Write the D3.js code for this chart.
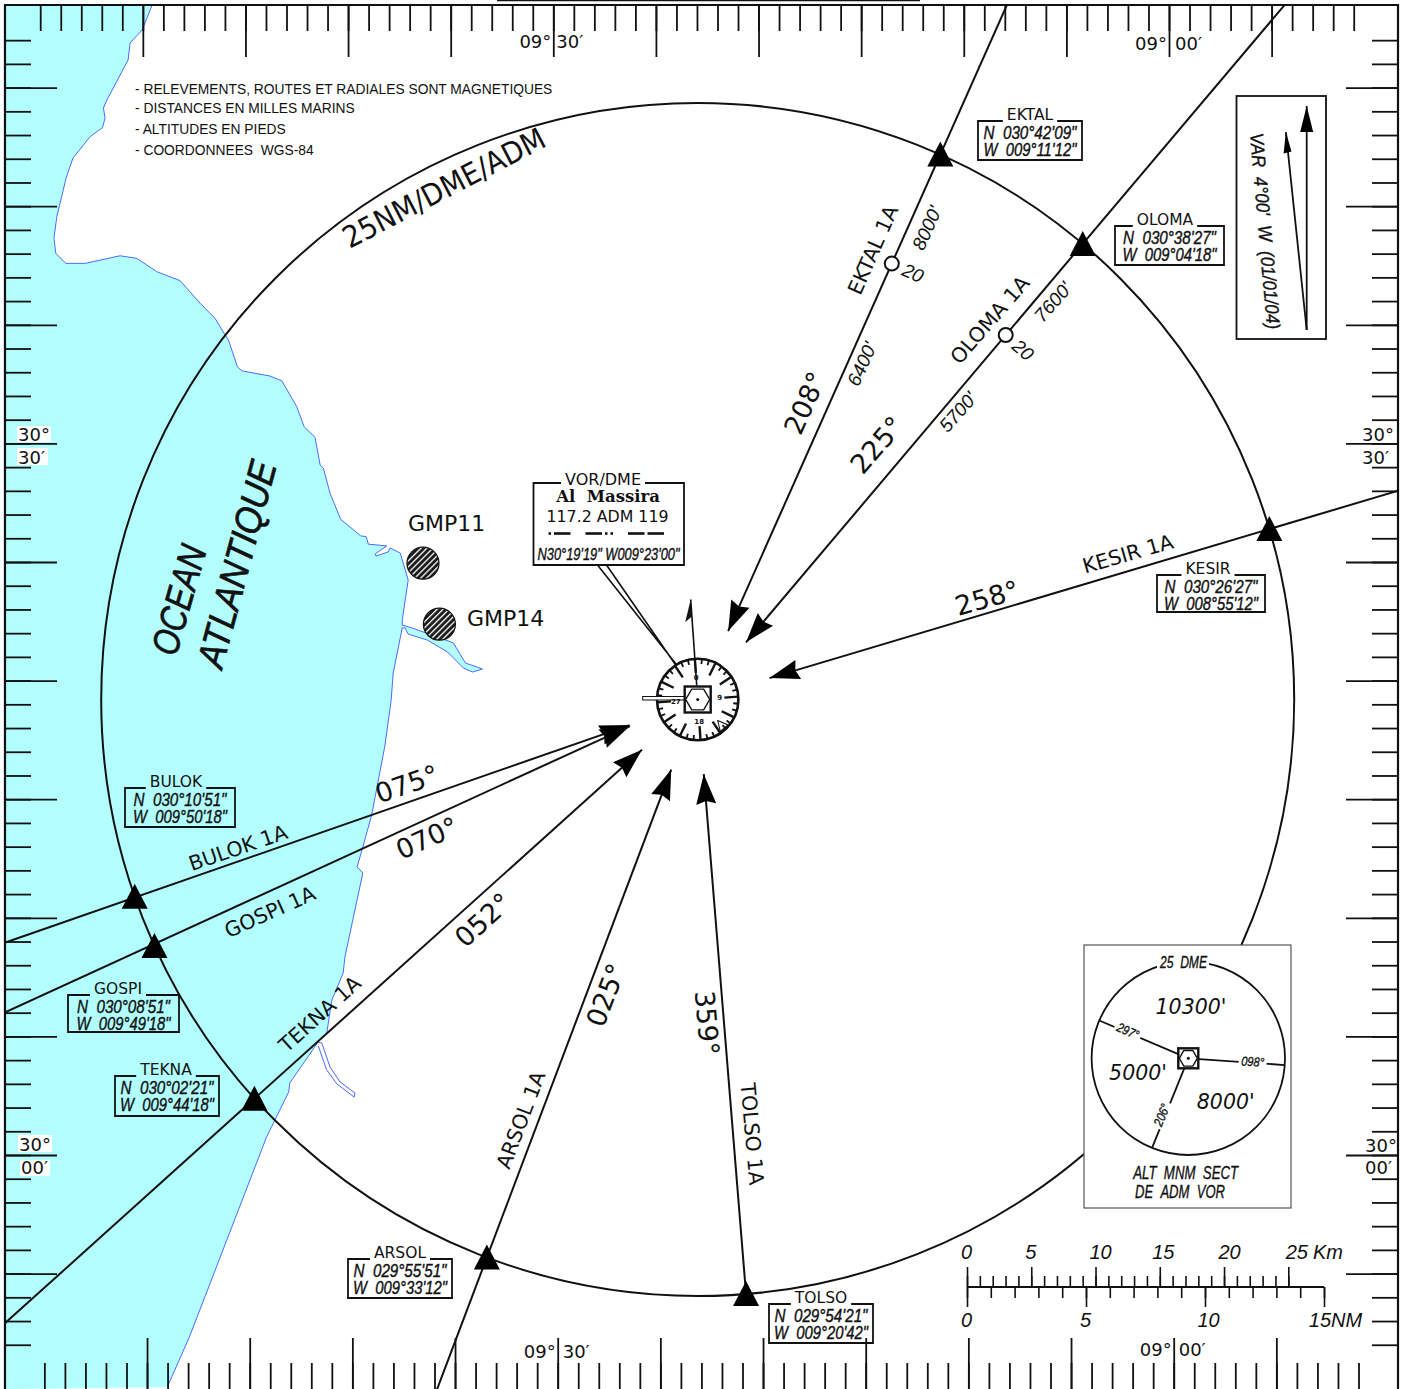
<!DOCTYPE html>
<html>
<head>
<meta charset="utf-8">
<script src="https://d3js.org/d3.v7.min.js"></script>
<style>
  html, body { margin: 0; padding: 0; background: #fff; }
  svg { display: block; }
  text { font-family: "DejaVu Sans", sans-serif; fill: #111; }
  .note { font-family: "Liberation Sans", sans-serif; font-size: 13.8px; }
  .grat { font-size: 18px; }
  .name { font-size: 15.5px; text-anchor: middle; }
  .coord { font-family: "Liberation Sans", sans-serif; font-style: italic; font-size: 19px; text-anchor: middle; stroke: #111; stroke-width: .4px; }
  .route { font-size: 20.5px; text-anchor: middle; dominant-baseline: central; }
  .track { font-size: 27px; text-anchor: middle; dominant-baseline: central; }
  .alt { font-family: "Liberation Sans", sans-serif; font-style: italic; font-size: 19px; text-anchor: middle; dominant-baseline: central; }
  .narrow { font-family: "Liberation Sans", sans-serif; font-style: italic; text-anchor: middle; stroke: #111; stroke-width: .35px; }
  .sector { font-style: italic; font-size: 20.5px; text-anchor: middle; dominant-baseline: central; }
  .domain { display: none; }
</style>
</head>
<body></body>
<script>
  var variation = 4;
  var dmeRing = 25;

  // routes
  var fixNames = ["EKTAL", "OLOMA", "KESIR", "BULOK", "GOSPI", "TEKNA", "ARSOL", "TOLSO"];
  var procNames = ["EKTAL 1A", "OLOMA 1A", "KESIR 1A", "BULOK 1A", "GOSPI 1A", "TEKNA 1A", "ARSOL 1A", "TOLSO 1A"];
  var inboundTracks = [208, 225, 258, 75, 70, 52, 25, 359];
  // from the VOR to each fix and to each arrow tip
  var fixRadials = [24, 40.2, 73.4, 250.7, 245.6, 228, 200.7, 175.35];
  var tipRadials = [24, 40.2, 73.4, 249.4, 248.6, 228, 200.7, 175.35];
  var tipRanges = [3.14, 3.14, 3.14, 3.05, 3.05, 3.14, 3.14, 3.14];
  var outerRanges = [45, 45, 45, 45, 45, 45, 45, 25];
  var fixLat = ["N\u00a0\u00a0030°42'09\"", "N\u00a0\u00a0030°38'27\"", "N\u00a0\u00a0030°26'27\"", "N\u00a0\u00a0030°10'51\"", "N\u00a0\u00a0030°08'51\"", "N\u00a0\u00a0030°02'21\"", "N\u00a0\u00a0029°55'51\"", "N\u00a0\u00a0029°54'21\""];
  var fixLon = ["W\u00a0\u00a0009°11'12\"", "W\u00a0\u00a0009°04'18\"", "W\u00a0\u00a0008°55'12\"", "W\u00a0\u00a0009°50'18\"", "W\u00a0\u00a0009°49'18\"", "W\u00a0\u00a0009°44'18\"", "W\u00a0\u00a0009°33'12\"", "W\u00a0\u00a0009°20'42\""];

  // 20 DME step downs
  var stepFix = ["EKTAL", "OLOMA"];
  var stepRange = [20, 20];

  // mn sector altitudes
  var sectorRadials = [297, 98, 206];
  var sectorLabels = ["297°", "098°", "206°"];

  // graticule, minutes east of 09°30'W and north of 30°00'N
  var lonMinor = d3.range(-25, 40);
  var lonMajor = d3.range(-20, 40, 5);
  var latMinor = d3.range(-8, 48);
  var latMajor = d3.range(-5, 50, 5);

  // scale bar
  var kmMinor = d3.range(0, 26);
  var kmMajor = [0, 5, 10, 15, 20, 25];
  var nmMinor = d3.range(0, 16);
  var nmMajor = [0, 5, 10, 15];

  var coast = [[-19.55, 48.48], [-20.03, 47.43], [-20.62, 46.88], [-20.72, 46.16], [-21.75, 44.48], [-21.92, 44.14], [-21.84, 43.71],
    [-21.97, 43.31], [-22.57, 42.93], [-23.41, 42.02], [-23.74, 41.18], [-24.19, 39.56], [-24.33, 38.65], [-24.24, 38.01],
    [-23.75, 37.59], [-22.81, 37.59], [-21.11, 37.91], [-20.29, 37.8], [-19.32, 37.24], [-18.18, 36.86], [-17.21, 35.91],
    [-16.48, 35.27], [-15.99, 34.57], [-15.83, 34.36], [-15.39, 33.23], [-15.18, 33.06], [-13.8, 32.84], [-13.23, 32.64],
    [-12.5, 31.55], [-12.14, 30.7], [-11.61, 30.26], [-11.36, 29.09], [-11.2, 28.95], [-10.88, 27.9], [-10.36, 26.8],
    [-9.38, 26.1], [-9.12, 26.07], [-9.01, 25.75], [-8.11, 25.68],
    [-8.68, 25.34], [-8.64, 25.25], [-8.05, 25.42], [-7.95, 25.59], [-7.46, 25.38], [-7.07, 24.24], [-7.36, 22.55],
    [-7.36, 22.34], [-6.88, 22.22], [-4.87, 21.59], [-4.28, 20.74], [-3.45, 20.49], [-3.94, 20.36], [-4.38, 20.53],
    [-5.16, 21.21], [-6.14, 21.71], [-7.07, 21.96], [-7.22, 22.22], [-7.36, 22.22], [-7.8, 20.32], [-7.9, 19.18],
    [-8.2, 17.28], [-8.85, 14.33], [-9.33, 12.83], [-9.56, 12.15], [-9.28, 11.89], [-10.15, 8.36], [-10.24, 7.67],
    [-10.79, 6.53], [-11.04, 5.14], [-11.47, 4.76], [-11.96, 4.13],
    [-12.84, 3.04], [-12.89, 2.66], [-13.97, 0.76], [-14.31, 0], [-17.73, -7.67], [-18.81, -9.78],
    [-26.78, -9.87], [-26.78, 48.48]];
  var creek = [[-11.47, 4.76], [-11.28, 4.72], [-10.88, 3.71], [-10.39, 3.08], [-9.66, 2.61], [-9.7, 2.44], [-10.55, 3.0], [-11.05, 3.6], [-11.45, 4.6]];

  var zones = ["GMP11", "GMP14"];
  var zoneLon = [-6.35, -5.55];
  var zoneLat = [24.95, 22.38];

  var notes = ["RELEVEMENTS, ROUTES ET RADIALES SONT MAGNETIQUES", "DISTANCES EN MILLES MARINS", "ALTITUDES EN PIEDS", "COORDONNEES\u00a0\u00a0WGS-84"];

  // ---- scales
  var width = 1407, height = 1389;
  var left = 5, right = 1398, topY = 5;
  var vorX = 697.7, vorY = 699.5;

  var xTop = d3.scaleLinear().domain([0, 30]).range([553.3, 1169]);
  var xBottom = d3.scaleLinear().domain([0, 30]).range([557.7, 1173.7]);
  var yLat = d3.scaleLinear().domain([0, 30]).range([1155, 443.4]);
  var rNm = d3.scaleLinear().domain([0, dmeRing]).range([0, 596.5]);
  var rInset = d3.scaleLinear().domain([0, dmeRing]).range([0, 96.7]);

  function polar(brg, r, cx, cy) {
    var a = brg * Math.PI / 180;
    return [(cx === undefined ? vorX : cx) + r * Math.sin(a), (cy === undefined ? vorY : cy) - r * Math.cos(a)];
  }

  // the chart lettering is condensed, none of the installed fonts is
  function squeeze(sel, k) {
    sel.each(function(){
      d3.select(this)
        .attr("textLength", this.getComputedTextLength() * k)
        .attr("lengthAdjust", "spacingAndGlyphs");
    });
    return sel;
  }

  var svg = d3.select("body")
    .append("svg")
    .attr("width", width)
    .attr("height", height);

  var defs = svg.append("defs");
  defs.append("clipPath").attr("id", "frame")
    .append("rect").attr("x", left).attr("y", topY).attr("width", right - left).attr("height", height - topY);
  var hatch = defs.append("pattern").attr("id", "hatch")
    .attr("patternUnits", "userSpaceOnUse").attr("width", 4.2).attr("height", 4.2)
    .attr("patternTransform", "rotate(-45)");
  hatch.append("rect").attr("width", 4.2).attr("height", 4.2).attr("fill", "#1a1a1a");
  hatch.append("rect").attr("width", 4.2).attr("height", 1.3).attr("fill", "#fff");

  // ---- ocean and coast
  var coastLine = d3.line()
    .x(function(d){ return xTop(d[0]); })
    .y(function(d){ return yLat(d[1]); });

  svg.append("path")
    .attr("d", coastLine(coast) + "Z")
    .attr("fill", "#b3ffff")
    .attr("stroke", "none");
  svg.append("path")
    .attr("d", coastLine(coast.slice(0, -2)))
    .attr("fill", "none")
    .attr("stroke", "#4a6cff")
    .attr("stroke-width", 1);
  svg.append("path")
    .attr("d", coastLine(creek))
    .attr("fill", "#fff")
    .attr("stroke", "#4a6cff")
    .attr("stroke-width", 1);

  // ---- graticule ticks
  function ticks(axis, values, size, translate) {
    svg.append("g")
      .attr("transform", translate)
      .call(axis.tickValues(values).tickSize(size).tickFormat(""))
      .selectAll("line")
      .attr("stroke", "#111")
      .attr("stroke-width", 1.8);
  }
  ticks(d3.axisBottom(xTop), lonMinor, 26, "translate(0," + topY + ")");
  ticks(d3.axisBottom(xTop), lonMajor, 52, "translate(0," + topY + ")");
  ticks(d3.axisTop(xBottom), lonMinor, 26, "translate(0," + height + ")");
  ticks(d3.axisTop(xBottom), lonMajor, 51, "translate(0," + height + ")");
  ticks(d3.axisRight(yLat), latMinor, 26, "translate(" + left + ",0)");
  ticks(d3.axisRight(yLat), latMajor, 52, "translate(" + left + ",0)");
  ticks(d3.axisLeft(yLat), latMinor, 26, "translate(" + right + ",0)");
  ticks(d3.axisLeft(yLat), latMajor, 52, "translate(" + right + ",0)");

  svg.append("path")
    .attr("d", "M" + left + "," + height + "V" + topY + "H" + right + "V" + height)
    .attr("fill", "none").attr("stroke", "#111").attr("stroke-width", 2.2);
  svg.append("line").attr("x1", 497).attr("x2", 920).attr("y1", 0.5).attr("y2", 0.5)
    .attr("stroke", "#111").attr("stroke-width", 1.6);

  // white patches behind the left hand labels
  [[17, 426, 34, 16], [17, 448, 31, 17], [18, 1135, 34, 17], [20, 1160, 30, 16]].forEach(function(b){
    svg.append("rect").attr("x", b[0]).attr("y", b[1]).attr("width", b[2]).attr("height", b[3]).attr("fill", "#fff");
  });

  function gratLabel(s, x, y, anchor) {
    svg.append("text").attr("class", "grat").attr("x", x).attr("y", y).attr("text-anchor", anchor || "start").text(s);
  }
  gratLabel("09°", xTop(0) - 2, 48, "end");
  gratLabel("30′", xTop(0) + 3, 48);
  gratLabel("09°", xTop(30) - 2, 50, "end");
  gratLabel("00′", xTop(30) + 6, 50);
  gratLabel("09°", xBottom(0) - 2, 1358, "end");
  gratLabel("30′", xBottom(0) + 5, 1358);
  gratLabel("09°", xBottom(30) - 2, 1356, "end");
  gratLabel("00′", xBottom(30) + 5, 1356);
  gratLabel("30°", 18, 440.5);
  gratLabel("30′", 18, 463.5);
  gratLabel("30°", 19, 1150.5);
  gratLabel("00′", 21, 1174);
  gratLabel("30°", 1362, 440.5);
  gratLabel("30′", 1362, 463.5);
  gratLabel("30°", 1365, 1151.5);
  gratLabel("00′", 1365, 1173.5);

  // ---- 25 NM ring
  svg.append("circle")
    .attr("cx", vorX).attr("cy", vorY).attr("r", rNm(dmeRing))
    .attr("fill", "none").attr("stroke", "#111").attr("stroke-width", 2);

  // ---- routes
  var routes = fixNames.map(function(n, i){
    return {
      fix: n,
      at: polar(fixRadials[i], rNm(dmeRing)),
      tip: polar(tipRadials[i], rNm(tipRanges[i])),
      end: polar(fixRadials[i], rNm(outerRanges[i]))
    };
  });

  svg.append("g").attr("clip-path", "url(#frame)")
    .selectAll("line")
    .data(routes)
    .enter()
    .append("line")
    .attr("x1", function(d){ return d.tip[0]; })
    .attr("y1", function(d){ return d.tip[1]; })
    .attr("x2", function(d){ return d.end[0]; })
    .attr("y2", function(d){ return d.end[1]; })
    .attr("stroke", "#111")
    .attr("stroke-width", 2);

  // inbound arrow heads
  svg.selectAll("path.head")
    .data(routes)
    .enter()
    .append("path")
    .attr("class", "head")
    .attr("d", "M0,0L-10,30L0,27L10,30Z")
    .attr("fill", "#000")
    .attr("transform", function(d){
      var a = Math.atan2(d.tip[0] - d.end[0], d.end[1] - d.tip[1]) * 180 / Math.PI;
      return "translate(" + d.tip + ") rotate(" + a + ")";
    });

  // fix triangles
  svg.selectAll("path.fix")
    .data(routes)
    .enter()
    .append("path")
    .attr("class", "fix")
    .attr("d", "M0,-13L13,12L-13,12Z")
    .attr("fill", "#000")
    .attr("transform", function(d){ return "translate(" + d.at + ")"; });

  // step down circles
  svg.selectAll("circle.step")
    .data(stepFix)
    .enter()
    .append("circle")
    .attr("class", "step")
    .attr("r", 7)
    .attr("cx", function(d, i){ return polar(fixRadials[fixNames.indexOf(d)], rNm(stepRange[i]))[0]; })
    .attr("cy", function(d, i){ return polar(fixRadials[fixNames.indexOf(d)], rNm(stepRange[i]))[1]; })
    .attr("fill", "#fff")
    .attr("stroke", "#111")
    .attr("stroke-width", 2);

  function rotText(s, cls, x, y, rot, size) {
    var t = svg.append("text").attr("class", cls)
      .attr("transform", "translate(" + x + "," + y + ") rotate(" + rot + ")")
      .text(s);
    if (size) t.style("font-size", size + "px");
    return t;
  }

  // route text, [x, y, rotation]
  var procAt = [[873, 250, -66], [990, 320, -49], [1128, 554, -16], [238, 848, -19], [270, 912, -24], [320, 1014, -42], [521, 1120, -69], [752, 1134, 85]];
  var trackAt = [[805, 403, -66], [877, 445, -49], [987, 598, -16], [407, 784, -19], [427, 838, -24], [483, 920, -42], [606, 995, -69], [707, 1023, 85]];
  procNames.forEach(function(n, i){
    rotText(n, "route", procAt[i][0], procAt[i][1], procAt[i][2]);
    rotText(d3.format("03d")(inboundTracks[i]) + "°", "track", trackAt[i][0], trackAt[i][1], trackAt[i][2]);
  });
  rotText("8000'", "alt", 927, 228, -66);
  rotText("6400'", "alt", 862, 364, -66);
  rotText("7600'", "alt", 1053, 302, -49);
  rotText("5700'", "alt", 958, 412, -49);
  rotText("20", "alt", 913, 273, 24);
  rotText("20", "alt", 1023, 350, 41);

  // fix boxes, [x0, y0, x1, y1] and the centre of each name
  var fixBox = [[978, 121, 1082, 160], [1115, 226, 1224, 265], [1157, 575, 1265, 612], [125, 788, 235, 827],
    [68, 995, 179, 1032], [115, 1076, 219, 1116], [348, 1259, 452, 1298], [769, 1304, 873, 1343]];
  var nameAt = [1030, 1165, 1208, 176, 118, 166, 400, 821];
  fixNames.forEach(function(n, i){
    var b = fixBox[i], cx = (b[0] + b[2]) / 2;
    var t = svg.append("text").attr("class", "name").attr("x", nameAt[i]).attr("y", b[1] - 1).text(n);
    var w = t.node().getComputedTextLength() / 2 + 4;
    svg.append("path")
      .attr("d", "M" + (nameAt[i] - w) + "," + b[1] + "H" + b[0] + "V" + b[3] + "H" + b[2] + "V" + b[1] + "H" + (nameAt[i] + w))
      .attr("fill", "none").attr("stroke", "#111").attr("stroke-width", 1.8);
    squeeze(svg.append("text").attr("class", "coord").attr("x", cx).attr("y", b[1] + 17.5).text(fixLat[i]), 0.8);
    squeeze(svg.append("text").attr("class", "coord").attr("x", cx).attr("y", b[1] + 35).text(fixLon[i]), 0.78);
  });

  // ---- notes and titles
  svg.selectAll("text.note")
    .data(notes)
    .enter()
    .append("text")
    .attr("class", "note")
    .attr("x", 135)
    .attr("y", function(d, i){ return [94, 113, 134, 155][i]; })
    .text(function(d){ return "- " + d; });

  rotText("25NM/DME/ADM", "route", 444, 188, -27.5, 30)
    .attr("textLength", 224).attr("lengthAdjust", "spacingAndGlyphs");

  rotText("OCEAN", "narrow", 179, 600, -74, 38).style("stroke-width", ".7px").style("dominant-baseline", "central")
    .attr("textLength", 112).attr("lengthAdjust", "spacingAndGlyphs");
  rotText("ATLANTIQUE", "narrow", 237, 564, -75, 38).style("stroke-width", ".7px").style("dominant-baseline", "central")
    .attr("textLength", 212).attr("lengthAdjust", "spacingAndGlyphs");

  // ---- restricted zones
  svg.selectAll("circle.zone")
    .data(zones)
    .enter()
    .append("circle")
    .attr("class", "zone")
    .attr("cx", function(d, i){ return xTop(zoneLon[i]); })
    .attr("cy", function(d, i){ return yLat(zoneLat[i]); })
    .attr("r", 16)
    .attr("fill", "url(#hatch)")
    .attr("stroke", "#111")
    .attr("stroke-width", 1.2);
  svg.append("text").attr("x", 408).attr("y", 531).style("font-size", "22px").text("GMP11");
  svg.append("text").attr("x", 467).attr("y", 626).style("font-size", "22px").text("GMP14");

  // ---- VOR box
  svg.append("path")
    .attr("d", "M561,483H533.5V565H684V483H645")
    .attr("fill", "#fff").attr("stroke", "#111").attr("stroke-width", 1.8);
  svg.append("text").attr("class", "name").attr("x", 603).attr("y", 484.5).style("font-size", "16px").text("VOR/DME");
  svg.append("text").attr("x", 608).attr("y", 502).attr("text-anchor", "middle")
    .style("font-family", "'DejaVu Serif', serif").style("font-weight", "bold").style("font-size", "16.5px").text("Al\u00a0\u00a0Massira");
  svg.append("text").attr("x", 607.5).attr("y", 521.5).attr("text-anchor", "middle").style("font-size", "15.8px").text("117.2 ADM 119");
  svg.append("text").attr("class", "coord").attr("x", 608.5).attr("y", 560).style("font-size", "16.5px")
    .attr("textLength", 142).attr("lengthAdjust", "spacingAndGlyphs").text("N30°19'19\" W009°23'00\"");

  // morse for ADM
  var morse = ".- -.. --";
  var mx = 548.5;
  morse.split("").forEach(function(c){
    if (c === " ") { mx += 12; return; }
    var len = c === "." ? 2.5 : 16.5;
    svg.append("line").attr("x1", mx).attr("x2", mx + len).attr("y1", 533.5).attr("y2", 533.5)
      .attr("stroke", "#111").attr("stroke-width", 2.6);
    mx += len + 3;
  });

  svg.append("path").attr("d", "M597.5,565L676,664M606.5,565L684,677")
    .attr("fill", "none").attr("stroke", "#111").attr("stroke-width", 1.6);

  // ---- compass rose on the VOR
  var rose = svg.append("g");
  var roseR = 40.7;
  rose.append("circle").attr("cx", vorX).attr("cy", vorY).attr("r", roseR)
    .attr("fill", "#fff").attr("stroke", "#111").attr("stroke-width", 2.6);
  rose.selectAll("line.tick")
    .data(d3.range(0, 360, 10))
    .enter()
    .append("line")
    .attr("class", "tick")
    .attr("x1", function(d){ return polar(d - variation, roseR)[0]; })
    .attr("y1", function(d){ return polar(d - variation, roseR)[1]; })
    .attr("x2", function(d){ return polar(d - variation, roseR - (d % 30 === 0 ? 14 : 5))[0]; })
    .attr("y2", function(d){ return polar(d - variation, roseR - (d % 30 === 0 ? 14 : 5))[1]; })
    .attr("stroke", "#111")
    .attr("stroke-width", function(d){ return d % 30 === 0 ? 2.4 : 1.8; });

  var pointerTip = polar(-variation, rNm(4.2));
  var pointerFoot = polar(-variation, 14);
  rose.append("line")
    .attr("x1", pointerFoot[0]).attr("y1", pointerFoot[1])
    .attr("x2", pointerTip[0]).attr("y2", pointerTip[1])
    .attr("stroke", "#111").attr("stroke-width", 1.6);
  rose.append("path").attr("d", "M0,0L-7,22L0,17Z").attr("fill", "#111")
    .attr("transform", "translate(" + pointerTip + ") rotate(" + (-variation) + ")");

  rose.append("rect").attr("x", vorX - 55).attr("y", vorY - 3).attr("width", 42).attr("height", 3.5)
    .attr("fill", "#fff").attr("stroke", "#111").attr("stroke-width", 1);

  [["0", 0], ["9", 90], ["18", 180], ["27", 270]].forEach(function(m){
    var p = polar(m[1] - variation, 22);
    svg.append("text").attr("x", p[0]).attr("y", p[1] + 2.5).attr("text-anchor", "middle")
      .style("font-size", "7px").style("font-weight", "bold").text(m[0]);
  });
  rose.append("path").attr("d", "M0,-6L5,4L-5,4Z").attr("fill", "none").attr("stroke", "#111").attr("stroke-width", 1)
    .attr("transform", "translate(" + polar(137, 35) + ") rotate(-40)");

  // navaid symbol, used again in the sector box
  function navaid(cx, cy, half) {
    var g = svg.append("g").attr("transform", "translate(" + cx + "," + cy + ")");
    g.append("rect").attr("x", -half).attr("y", -half).attr("width", half * 2).attr("height", half * 2)
      .attr("fill", "#fff").attr("stroke", "#111").attr("stroke-width", 2.4);
    var hex = d3.range(6).map(function(k){
      var a = k * Math.PI / 3;
      return [(half - 1) * Math.cos(a), (half - 1) * Math.sin(a)];
    });
    g.append("path").attr("d", d3.line()(hex) + "Z").attr("fill", "#fff").attr("stroke", "#111").attr("stroke-width", 1.4);
    g.append("circle").attr("r", 1.5).attr("fill", "#111");
  }
  navaid(vorX, vorY, 13);

  // ---- sector altitudes box
  var insetX = 1188.3, insetY = 1058.3;
  svg.append("rect").attr("x", 1084).attr("y", 945).attr("width", 207).attr("height", 263)
    .attr("fill", "#fff").attr("stroke", "#555").attr("stroke-width", 1.2);
  svg.append("circle").attr("cx", insetX).attr("cy", insetY).attr("r", rInset(dmeRing))
    .attr("fill", "none").attr("stroke", "#111").attr("stroke-width", 1.8);
  svg.selectAll("line.sector")
    .data(sectorRadials)
    .enter()
    .append("line")
    .attr("class", "sector")
    .attr("x1", insetX).attr("y1", insetY)
    .attr("x2", function(d){ return polar(d - variation, rInset(dmeRing), insetX, insetY)[0]; })
    .attr("y2", function(d){ return polar(d - variation, rInset(dmeRing), insetX, insetY)[1]; })
    .attr("stroke", "#111")
    .attr("stroke-width", 1.8);
  navaid(insetX, insetY, 10);

  // sector radial text, [x, y, rotation, half gap]
  var sectorAt = [[1128, 1031, 24, 14], [1252.7, 1061.7, 4, 14], [1161.7, 1115, -68, 14]];
  sectorLabels.forEach(function(s, i){
    var a = sectorAt[i];
    svg.append("rect").attr("x", -a[3]).attr("y", -5).attr("width", a[3] * 2).attr("height", 10).attr("fill", "#fff")
      .attr("transform", "translate(" + a[0] + "," + a[1] + ") rotate(" + a[2] + ")");
    squeeze(rotText(s, "narrow", a[0], a[1], a[2], 13).style("dominant-baseline", "central"), 0.85);
  });
  svg.append("rect").attr("x", 1157).attr("y", 954).attr("width", 52).attr("height", 16).attr("fill", "#fff");
  svg.append("text").attr("class", "narrow").attr("x", 1183.5).attr("y", 968).style("font-size", "16px")
    .attr("textLength", 47).attr("lengthAdjust", "spacingAndGlyphs").text("25\u00a0\u00a0DME");
  rotText("10300'", "sector", 1191, 1007, 0);
  rotText("5000'", "sector", 1138, 1073, 0);
  rotText("8000'", "sector", 1225.7, 1101.7, 0);
  svg.append("text").attr("class", "narrow").attr("x", 1185.7).attr("y", 1179).style("font-size", "18px")
    .attr("textLength", 105).attr("lengthAdjust", "spacingAndGlyphs").text("ALT\u00a0\u00a0MNM\u00a0\u00a0SECT");
  svg.append("text").attr("class", "narrow").attr("x", 1180).attr("y", 1198).style("font-size", "18px")
    .attr("textLength", 90).attr("lengthAdjust", "spacingAndGlyphs").text("DE\u00a0\u00a0ADM\u00a0\u00a0VOR");

  // ---- scale bar
  var barX = 967, barY = 1287;
  var xKm = d3.scaleLinear().domain([0, 25]).range([barX, barX + 321.3]);
  var xNm = d3.scaleLinear().domain([0, 15]).range([barX, barX + 357]);

  var kmG = svg.append("g").attr("transform", "translate(0," + barY + ")");
  kmG.append("g").call(d3.axisTop(xKm).tickValues(kmMinor).tickSize(11).tickFormat(""));
  kmG.append("g").call(d3.axisTop(xKm).tickValues(kmMajor).tickSize(20).tickPadding(8));
  var nmG = svg.append("g").attr("transform", "translate(0," + barY + ")");
  nmG.append("g").call(d3.axisBottom(xNm).tickValues(nmMinor).tickSize(11).tickFormat(""));
  nmG.append("g").call(d3.axisBottom(xNm).tickValues(nmMajor).tickSize(20).tickPadding(6)
    .tickFormat(function(d){ return d === 15 ? "15NM" : d; }));
  svg.append("line").attr("x1", xNm(0)).attr("x2", xNm(15)).attr("y1", barY).attr("y2", barY)
    .attr("stroke", "#111").attr("stroke-width", 1.8);
  [kmG, nmG].forEach(function(g){
    g.selectAll("line").attr("stroke", "#111").attr("stroke-width", 1.6);
    g.selectAll("text")
      .style("font-family", "'Liberation Sans', sans-serif")
      .style("font-style", "italic")
      .style("font-size", "20px")
      .attr("fill", "#111");
  });
  var kmShift = { 0: -1, 5: -1, 10: 4.5, 15: 3, 20: 5, 25: 8 };
  var nmShift = { 0: -1, 5: -1, 10: 3, 15: 11 };
  kmG.selectAll("text").attr("dx", function(d){ return kmShift[d]; });
  nmG.selectAll("text").attr("dx", function(d){ return nmShift[d]; });
  svg.append("text").attr("x", 1313).attr("y", 1259)
    .style("font-family", "'Liberation Sans', sans-serif").style("font-style", "italic").style("font-size", "20px").text("Km");

  // ---- variation box
  svg.append("rect").attr("x", 1236.5).attr("y", 96).attr("width", 89.5).attr("height", 243)
    .attr("fill", "#fff").attr("stroke", "#111").attr("stroke-width", 1.8);
  var varBase = [1306.7, 330];
  var northTip = polar(0, 224, varBase[0], varBase[1]);
  var magTip = polar(-6, 199, varBase[0], varBase[1]);
  [northTip, magTip].forEach(function(p){
    svg.append("line").attr("x1", varBase[0]).attr("y1", varBase[1]).attr("x2", p[0]).attr("y2", p[1])
      .attr("stroke", "#111").attr("stroke-width", 1.8);
  });
  svg.append("path").attr("d", "M0,0L-6.5,26L6.5,26Z").attr("fill", "#000")
    .attr("transform", "translate(" + northTip + ")");
  svg.append("path").attr("d", "M0,0L-4.5,21L3.5,20Z").attr("fill", "#000")
    .attr("transform", "translate(" + magTip + ") rotate(-6)");
  rotText("VAR\u00a0\u00a04°00'\u00a0\u00a0W\u00a0\u00a0(01/01/04)", "narrow", 1265, 231, 85, 19).style("dominant-baseline", "central")
    .attr("textLength", 197).attr("lengthAdjust", "spacingAndGlyphs");
</script>
</html>
